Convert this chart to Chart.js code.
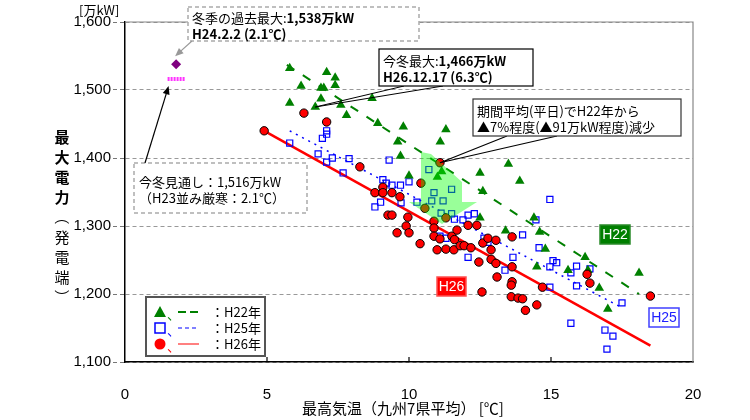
<!DOCTYPE html>
<html>
<head>
<meta charset="utf-8">
<script src="https://cdn.jsdelivr.net/npm/chart.js@4.4.1/dist/chart.umd.min.js"></script>
<style>
  html, body { margin: 0; background: #fff; }
  #wrap { width: 750px; height: 420px; }
</style>
</head>
<body>
<div id="wrap"><canvas id="chart"></canvas></div>
<script>
// H22 (triangles)
const h22Temp = [5.8, 6.2, 7.1, 7.4, 7.4, 6.9, 7.0, 6.9, 5.8, 6.7, 7.6, 7.8, 8.7, 8.9, 9.8, 9.6, 9.7, 10.0, 11.3, 11.1,
  13.5, 12.5, 13.9, 11.0, 11.15, 12.6, 12.5, 14.4, 13.4, 14.6, 14.8, 14.5, 15.6, 16.2, 16.3, 16.7, 18.1, 17.0];
const h22Load = [1532, 1506, 1526, 1518, 1507, 1503, 1503, 1487, 1481, 1475, 1478, 1463, 1488, 1451, 1446, 1424, 1403, 1374, 1442, 1424,
  1391, 1378, 1366, 1372, 1380, 1351, 1312, 1312, 1293, 1291, 1266, 1240, 1235, 1254, 1235, 1209, 1231, 1178];

// H25 (squares)
const h25Temp = [5.8, 6.95, 7.1, 7.1, 6.8, 7.1, 7.3, 7.68, 7.89, 9.3, 9.08, 9.2, 9.4, 9.7, 10.0, 9.0, 8.8, 9.72, 10.28, 10.88,
  10.8, 11.2, 11.13, 11.5, 11.5, 10.7, 11.6, 11.9, 12.08, 12.3, 11.09, 11.3, 12.08, 12.64, 12.78, 13.38, 13.66, 14.96, 14.0, 14.47,
  14.58, 14.96, 14.96, 15.07, 15.2, 15.7, 15.9, 15.9, 16.37, 17.5, 15.7, 16.9, 17.18, 16.97];
const h25Load = [1422, 1429, 1435, 1440, 1406, 1394, 1400, 1378, 1399, 1397, 1368, 1363, 1360, 1360, 1365, 1335, 1328, 1334, 1335, 1349,
  1337, 1337, 1319, 1354, 1318, 1383, 1310, 1309, 1316, 1318, 1285, 1282, 1254, 1282, 1276, 1235, 1254, 1339, 1287, 1309,
  1268, 1210, 1240, 1249, 1246, 1231, 1241, 1212, 1237, 1187, 1157, 1147, 1138, 1119];

// H26 (circles)
const h26Temp = [4.9, 6.3, 7.1, 8.27, 8.8, 9.08, 9.08, 9.4, 9.68, 9.26, 9.4, 9.96, 9.9, 9.58, 10.0, 10.42, 10.39, 10.88, 10.88, 10.88,
  11.09, 10.99, 11.3, 11.58, 11.51, 11.69, 11.6, 11.8, 11.94, 12.18, 12.08, 12.39, 12.6, 12.78, 13.06, 12.89, 12.46, 12.89, 13.06, 13.1,
  12.57, 13.63, 13.63, 13.63, 13.6, 13.6, 13.84, 14.0, 14.1, 14.5, 14.7, 16.27, 16.37, 18.5, 11.09, 10.56, 11.3];
const h26Load = [1440, 1466, 1453, 1387, 1349, 1357, 1349, 1349, 1343, 1316, 1316, 1313, 1300, 1290, 1290, 1363, 1274, 1307, 1297, 1285,
  1281, 1265, 1266, 1265, 1285, 1294, 1280, 1271, 1271, 1268, 1301, 1301, 1275, 1282, 1279, 1265, 1247, 1251, 1245, 1225,
  1203, 1284, 1240, 1218, 1213, 1196, 1194, 1193, 1176, 1184, 1210, 1229, 1216, 1197, 1393, 1326, 1312];

// trend lines (end points)
const h22TrendTemp = [5.7, 18.1];
const h22TrendLoad = [1537, 1200];
const h25TrendTemp = [5.8, 17.4];
const h25TrendLoad = [1440, 1182];
const h26TrendTemp = [4.9, 18.5];
const h26TrendLoad = [1440, 1124];

// winter record and this winter's outlook
const pastMaxTemp = [1.8];
const pastMaxLoad = [1538];
const outlookTemp = [1.5, 2.1];
const outlookLoad = [1516, 1516];

const xTickMarks = [5, 10, 15];
const legendLabels = ['：H22年', '：H25年', '：H26年'];
const yTitleChars = ['最', '大', '電', '力', '（', '発', '電', '端', '）'];

const JP = '"Noto Sans CJK JP", sans-serif';

function pts(xs, ys) {
    return xs.map((x, i) => ({ x: x, y: ys[i] }));
}

function arrow(ctx, x1, y1, x2, y2, color) {
    const ang = Math.atan2(y2 - y1, x2 - x1);
    ctx.strokeStyle = color;
    ctx.fillStyle = color;
    ctx.lineWidth = 1.2;
    ctx.beginPath();
    ctx.moveTo(x1, y1);
    ctx.lineTo(x2 - 6 * Math.cos(ang), y2 - 6 * Math.sin(ang));
    ctx.stroke();
    ctx.beginPath();
    ctx.moveTo(x2, y2);
    ctx.lineTo(x2 - 9 * Math.cos(ang - 0.4), y2 - 9 * Math.sin(ang - 0.4));
    ctx.lineTo(x2 - 9 * Math.cos(ang + 0.4), y2 - 9 * Math.sin(ang + 0.4));
    ctx.closePath();
    ctx.fill();
}

// text with bold / normal runs
function richText(ctx, parts, x, y, size) {
    ctx.textBaseline = 'middle';
    ctx.textAlign = 'left';
    ctx.fillStyle = '#000';
    parts.forEach(([txt, bold]) => {
        ctx.font = (bold ? 'bold ' : '') + size + 'px ' + JP;
        ctx.fillText(txt, x, y);
        x += ctx.measureText(txt).width;
    });
}

function box(ctx, x1, y1, x2, y2, stroke, dash) {
    ctx.fillStyle = '#fff';
    ctx.fillRect(x1, y1, x2 - x1, y2 - y1);
    ctx.strokeStyle = stroke;
    ctx.lineWidth = dash ? 1.5 : 1.2;
    ctx.setLineDash(dash || []);
    ctx.strokeRect(x1, y1, x2 - x1, y2 - y1);
    ctx.setLineDash([]);
}

function tag(ctx, x1, y1, x2, y2, fill, stroke, textColor, txt) {
    ctx.fillStyle = fill;
    ctx.fillRect(x1, y1, x2 - x1, y2 - y1);
    ctx.strokeStyle = stroke;
    ctx.lineWidth = 1.5;
    ctx.strokeRect(x1, y1, x2 - x1, y2 - y1);
    ctx.fillStyle = textColor;
    ctx.font = '14px "Liberation Sans", sans-serif';
    ctx.textAlign = 'center';
    ctx.textBaseline = 'middle';
    ctx.fillText(txt, (x1 + x2) / 2, (y1 + y2) / 2 + 1);
}

const decorations = {
    id: 'decorations',
    beforeDatasetsDraw(chart) {
        const { ctx, chartArea: a, scales: { x } } = chart;
        ctx.save();
        ctx.strokeStyle = '#888';
        ctx.lineWidth = 1.2;
        ctx.beginPath();
        ctx.moveTo(a.left, a.top);
        ctx.lineTo(a.right, a.top);
        ctx.lineTo(a.right, a.bottom);
        ctx.stroke();
        ctx.strokeStyle = '#000';
        ctx.beginPath();
        xTickMarks.forEach(v => {
            const p = x.getPixelForValue(v);
            ctx.moveTo(p, a.bottom);
            ctx.lineTo(p, a.bottom - 5);
        });
        ctx.stroke();
        ctx.restore();
    },
    afterDatasetsDraw(chart) {
        const { ctx, scales: { x, y } } = chart;
        const px = v => x.getPixelForValue(v);
        const py = v => y.getPixelForValue(v);
        ctx.save();

        // big translucent green arrow (reduction)
        ctx.fillStyle = 'rgba(0, 255, 0, 0.4)';
        ctx.beginPath();
        ctx.moveTo(421, 152);
        ctx.lineTo(431, 154);
        ctx.lineTo(462, 182);
        ctx.lineTo(462, 202);
        ctx.lineTo(477, 202);
        ctx.lineTo(442, 224);
        ctx.lineTo(409, 202);
        ctx.lineTo(421, 202);
        ctx.closePath();
        ctx.fill();

        // past winter maximum
        box(ctx, 188, 7, 419, 41, '#aaa', [4, 3]);
        richText(ctx, [['冬季の過去最大:', false], ['1,538万kW', true]], 192, 18, 13);
        richText(ctx, [['H24.2.2 (2.1℃)', true]], 192, 34, 13);
        arrow(ctx, 192, 41, px(pastMaxTemp[0]) - 1, py(pastMaxLoad[0]) - 8, '#999');

        // this winter's outlook
        box(ctx, 134, 163, 307, 213, '#aaa', [4, 3]);
        richText(ctx, [['今冬見通し：1,516万kW', false]], 139, 182, 13);
        richText(ctx, [['（H23並み厳寒：2.1℃）', false]], 139, 198, 13);
        arrow(ctx, 145, 163, px(outlookTemp[0]) + 1, py(outlookLoad[0]) + 7, '#000');

        // this winter's maximum
        const mx = px(6.7), my = py(1475);
        ctx.strokeStyle = '#000';
        ctx.lineWidth = 1;
        ctx.beginPath();
        ctx.moveTo(404, 86); ctx.lineTo(mx, my); ctx.lineTo(443, 86);
        ctx.stroke();
        box(ctx, 379, 49, 533, 86, '#000');
        richText(ctx, [['今冬最大:', false], ['1,466万kW', true]], 383, 61, 13);
        richText(ctx, [['H26.12.17 (6.3℃)', true]], 383, 77, 13);

        // period average
        const ax = px(11.09), ay = py(1393);
        ctx.strokeStyle = '#000';
        ctx.beginPath();
        ctx.moveTo(507, 136); ctx.lineTo(ax, ay); ctx.lineTo(557, 136);
        ctx.stroke();
        box(ctx, 473, 99, 681, 136, '#333');
        richText(ctx, [['期間平均(平日)でH22年から', false]], 477, 111, 13);
        richText(ctx, [['▲7%程度(▲91万kW程度)減少', false]], 477, 127, 13);

        // series tags
        tag(ctx, 600, 225, 630, 244, '#007f00', '#2a8a2a', '#fff', 'H22');
        tag(ctx, 437, 277, 466, 296, '#ff0000', '#ff5050', '#fff', 'H26');
        tag(ctx, 649, 308, 679, 327, '#fff', '#4040ff', '#2020ff', 'H25');

        // legend
        box(ctx, 146, 297, 265, 356, '#555');
        ctx.lineWidth = 2;
        ctx.strokeRect(146, 297, 119, 59);
        const rows = [312, 328, 344];
        ctx.fillStyle = '#008000';
        ctx.beginPath();
        ctx.moveTo(160, rows[0] - 6); ctx.lineTo(166, rows[0] + 5); ctx.lineTo(154, rows[0] + 5);
        ctx.closePath(); ctx.fill();
        ctx.strokeStyle = '#0000ff'; ctx.lineWidth = 1.5;
        ctx.strokeRect(155, rows[1] - 5, 10, 10);
        ctx.fillStyle = '#ff0000';
        ctx.beginPath(); ctx.arc(160, rows[2], 5.5, 0, Math.PI * 2); ctx.fill();
        const legendLines = [['#008000', [8, 4]], ['#8080ff', [4, 3]], ['#ff8080', []]];
        legendLines.forEach(([c, d], i) => {
            ctx.strokeStyle = c; ctx.lineWidth = 2; ctx.setLineDash(d);
            ctx.beginPath(); ctx.moveTo(178, rows[i]); ctx.lineTo(199, rows[i]); ctx.stroke();
        });
        ctx.setLineDash([]);
        ctx.font = '13px ' + JP;
        ctx.textBaseline = 'middle';
        ctx.textAlign = 'left';
        legendLabels.forEach((t, i) => {
            ctx.fillStyle = ['#008000', '#0000ff', '#ff0000'][i];
            ctx.fillText('、', 167, rows[i] + 2);
            ctx.fillStyle = '#000';
            ctx.fillText(t, 211, rows[i]);
        });

        // axis titles
        ctx.fillStyle = '#000';
        ctx.font = '13px ' + JP;
        ctx.fillText('[万kW]', 79, 10);
        ctx.textAlign = 'center';
        yTitleChars.forEach((c, i) => {
            const cy = 137 + i * 20;
            ctx.font = (i < 4 ? 'bold ' : '') + '15px ' + JP;
            if (c === '（' || c === '）') {
                // vertical writing: bracket turned a quarter
                ctx.save();
                ctx.translate(62, cy);
                ctx.rotate(Math.PI / 2);
                ctx.fillText(c, 0, 0);
                ctx.restore();
            } else {
                ctx.fillText(c, 62, cy);
            }
        });
        ctx.font = '15px ' + JP;
        ctx.fillText('最高気温（九州7県平均） [℃]', 403, 408);
        ctx.restore();
    }
};

new Chart(document.getElementById('chart'), {
    type: 'scatter',
    data: {
        datasets: [
            {
                label: 'H26',
                data: pts(h26Temp, h26Load),
                pointStyle: 'circle',
                pointRadius: 4.2,
                backgroundColor: '#ff0000',
                borderColor: '#000',
                borderWidth: 1
            },
            {
                label: 'H22',
                data: pts(h22Temp, h22Load),
                pointStyle: 'triangle',
                pointRadius: 5.5,
                backgroundColor: '#008000',
                borderColor: '#008000',
                borderWidth: 0
            },
            {
                label: 'H25',
                data: pts(h25Temp, h25Load),
                pointStyle: 'rect',
                pointRadius: 4.3,
                backgroundColor: 'rgba(0,0,0,0)',
                borderColor: '#0000ff',
                borderWidth: 1.2
            },
            {
                type: 'line',
                data: pts(h26TrendTemp, h26TrendLoad),
                borderColor: '#ff0000',
                borderWidth: 2.5,
                pointRadius: 0
            },
            {
                type: 'line',
                data: pts(h22TrendTemp, h22TrendLoad),
                borderColor: '#008000',
                borderWidth: 2,
                borderDash: [9, 10],
                pointRadius: 0
            },
            {
                type: 'line',
                data: pts(h25TrendTemp, h25TrendLoad),
                borderColor: '#0000ff',
                borderWidth: 1.5,
                borderDash: [2, 5],
                pointRadius: 0
            },
            {
                label: 'past max',
                data: pts(pastMaxTemp, pastMaxLoad),
                pointStyle: 'rectRot',
                pointRadius: 5,
                backgroundColor: '#800080',
                borderWidth: 0
            },
            {
                type: 'line',
                data: pts(outlookTemp, outlookLoad),
                borderColor: '#ff33ff',
                borderWidth: 4,
                borderDash: [2, 1],
                pointRadius: 0
            }
        ]
    },
    options: {
        responsive: true,
        maintainAspectRatio: false,
        animation: false,
        layout: { padding: { top: 22, right: 57, bottom: 0, left: 0 } },
        plugins: {
            legend: { display: false },
            tooltip: { enabled: false }
        },
        scales: {
            x: {
                type: 'linear',
                min: 0,
                max: 20,
                afterFit: s => { s.height = 58; },
                ticks: {
                    stepSize: 5,
                    padding: 16,
                    color: '#000',
                    font: { size: 15, family: '"Liberation Sans", sans-serif' }
                },
                grid: { display: false },
                border: { color: '#000', width: 1.5 }
            },
            y: {
                min: 1100,
                max: 1600,
                afterFit: s => { s.width = 125; },
                ticks: {
                    stepSize: 100,
                    padding: 2,
                    color: '#000',
                    font: { size: 15, family: '"Liberation Sans", sans-serif' },
                    callback: v => v.toLocaleString('en-US')
                },
                grid: {
                    color: '#999',
                    tickColor: '#777',
                    tickLength: 12,
                    tickBorderDash: [4, 3]
                },
                border: { color: '#000', width: 1.5, dash: [4, 3] }
            }
        }
    },
    plugins: [decorations]
});
</script>
</body>
</html>
